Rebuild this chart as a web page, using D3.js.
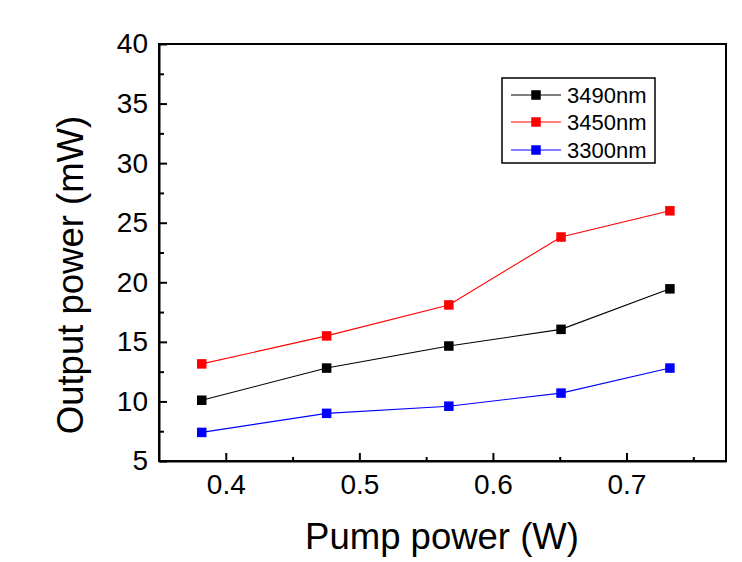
<!DOCTYPE html>
<html>
<head>
<meta charset="utf-8">
<script src="https://cdn.jsdelivr.net/npm/d3@7/dist/d3.min.js"></script>
<style>
  html, body { margin: 0; padding: 0; background: #fff; }
  text { font-family: Arial, "Liberation Sans", sans-serif; fill: #000; }
</style>
</head>
<body>
<svg id="chart" width="742" height="562"></svg>
<script>
const pumpPower = [0.382, 0.4755, 0.567, 0.651, 0.7325];
const seriesNames = ["3490nm", "3450nm", "3300nm"];
const seriesColors = ["#000000", "#ff0000", "#0000ff"];
const values3490 = [10.1, 12.8, 14.65, 16.05, 19.45];
const values3450 = [13.15, 15.5, 18.1, 23.8, 26.0];
const values3300 = [7.4, 9.0, 9.6, 10.7, 12.8];
const xTicks = [0.4, 0.5, 0.6, 0.7];
const xMinorTicks = [0.35, 0.45, 0.55, 0.65, 0.75];
const yTicks = [5, 10, 15, 20, 25, 30, 35, 40];
const yMinorTicks = [7.5, 12.5, 17.5, 22.5, 27.5, 32.5, 37.5];

const series = [values3490, values3450, values3300];

const svg = d3.select("#chart");
const L = 159, R = 726, T = 44, B = 461;
const FF = "Arial, 'Liberation Sans', sans-serif";

const x = d3.scaleLinear().domain([0.35, 0.7745]).range([L, R]);
const y = d3.scaleLinear().domain([5, 40]).range([B, T]);

// Frame (top & right)
svg.append("rect").attr("x", L).attr("y", T).attr("width", R - L).attr("height", B - T)
  .attr("fill", "none").attr("stroke", "#000").attr("stroke-width", 2);

// Bottom axis
const xAxis = svg.append("g").attr("transform", `translate(0,${B})`);
xAxis.call(d3.axisBottom(x).tickValues(xTicks).tickSizeInner(-8).tickSizeOuter(0).tickPadding(16)
  .tickFormat(d3.format(".1f")));
xAxis.selectAll(".domain").attr("stroke-width", 2);
xAxis.selectAll(".tick line").attr("stroke-width", 2);
xAxis.selectAll(".tick text").attr("font-size", 28).attr("font-family", FF).attr("fill", "#000")
  .attr("dy", "0.71em").attr("y", 13);
const xMinor = svg.append("g").attr("transform", `translate(0,${B})`);
xMinor.call(d3.axisBottom(x).tickValues(xMinorTicks.filter(v => x(v) > L + 1)).tickSizeInner(-4).tickSizeOuter(0).tickFormat(""));
xMinor.selectAll(".domain").remove();
xMinor.selectAll(".tick line").attr("stroke-width", 2);

// Left axis
const yAxis = svg.append("g").attr("transform", `translate(${L},0)`);
yAxis.call(d3.axisLeft(y).tickValues(yTicks).tickSizeInner(-8).tickSizeOuter(0).tickPadding(11));
yAxis.selectAll(".domain").attr("stroke-width", 2);
yAxis.selectAll(".tick line").attr("stroke-width", 2);
yAxis.selectAll(".tick text").attr("font-size", 28).attr("font-family", FF).attr("fill", "#000");
const yMinor = svg.append("g").attr("transform", `translate(${L},0)`);
yMinor.call(d3.axisLeft(y).tickValues(yMinorTicks).tickSizeInner(-5).tickSizeOuter(0).tickFormat(""));
yMinor.selectAll(".domain").remove();
yMinor.selectAll(".tick line").attr("stroke-width", 2);

// Axis titles
svg.append("text").attr("x", 442).attr("y", 549).attr("text-anchor", "middle")
  .attr("font-size", 36.5).text("Pump power (W)");
svg.append("text").attr("transform", `translate(83,275) rotate(-90)`).attr("text-anchor", "middle")
  .attr("font-size", 36.5).text("Output power (mW)");

// Lines and markers
const line = d3.line().x((d, i) => x(pumpPower[i])).y(d => y(d));
const ms = 9.5;
series.forEach((vals, si) => {
  svg.append("path").datum(vals).attr("d", line).attr("fill", "none")
    .attr("stroke", seriesColors[si]).attr("stroke-width", 1.1);
  svg.append("g").selectAll("rect").data(vals).join("rect")
    .attr("x", (d, i) => x(pumpPower[i]) - ms / 2)
    .attr("y", d => y(d) - ms / 2)
    .attr("width", ms).attr("height", ms)
    .attr("fill", seriesColors[si]);
});

// Legend
const lg = svg.append("g");
lg.append("rect").attr("x", 502).attr("y", 78).attr("width", 153).attr("height", 85)
  .attr("fill", "#fff").attr("stroke", "#000").attr("stroke-width", 1.5);
const rowY = [95, 122, 150];
seriesNames.forEach((name, i) => {
  lg.append("line").attr("x1", 511).attr("x2", 561).attr("y1", rowY[i]).attr("y2", rowY[i])
    .attr("stroke", seriesColors[i]).attr("stroke-width", 1.1);
  lg.append("rect").attr("x", 536 - ms / 2).attr("y", rowY[i] - ms / 2).attr("width", ms).attr("height", ms)
    .attr("fill", seriesColors[i]);
  lg.append("text").attr("x", 567).attr("y", rowY[i]).attr("dy", "0.36em").attr("font-size", 22).text(name);
});
</script>
</body>
</html>
